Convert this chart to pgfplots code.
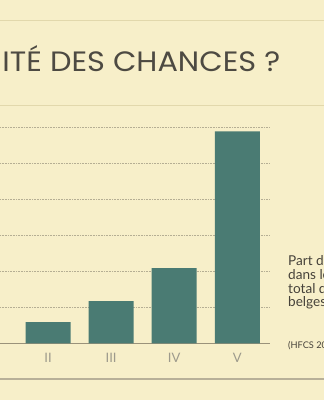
\documentclass[border=0pt]{standalone}
\usepackage{pgfplots}
\pgfplotsset{compat=1.18}
\usepackage{fontspec}
\setmainfont{Lato}
\newfontfamily\titlefont{Poppins}
\definecolor{bg}{HTML}{F7EFC9}
\definecolor{bar}{HTML}{4A7B73}
\definecolor{gridc}{HTML}{B5AE93}
\definecolor{axisc}{HTML}{9A927A}
\definecolor{titlec}{HTML}{4D4A42}
\definecolor{tickc}{HTML}{9D9A8C}
\definecolor{textc}{HTML}{46423A}
\definecolor{linec}{HTML}{E2D8AC}
\definecolor{botline}{HTML}{B8B098}
\begin{document}
\begin{tikzpicture}[x=1pt,y=1pt]
\clip (0,0) rectangle (324,400);
\fill[bg] (0,0) rectangle (324,400);
\draw[linec, line width=1pt] (0,379.3) -- (324,379.3);
\draw[linec, line width=1pt] (0,294) -- (324,294);
\draw[botline, line width=2.5pt] (0,21) -- (324,21);
\node[anchor=base west, inner sep=0, text=titlec, xscale=1.085, font=\titlefont\fontsize{28}{30}\selectfont] at (2.2,328.3) {ITÉ DES CHANCES ?};
\node[anchor=base west, inner sep=0, text=textc, align=left, font=\fontsize{13.6}{13.6}\selectfont] at (288,93.3) {Part du\\dans le\\total des\\belges};
\node[anchor=base west, inner sep=0, text=textc, font=\fontsize{9.2}{10}\selectfont] at (288,52) {(HFCS 2010)};
\begin{axis}[
  at={(0pt,56.7pt)}, anchor=south west,
  scale only axis, width=270pt, height=216pt,
  xmin=1.239, xmax=5.518, ymin=0, ymax=60,
  axis lines*=left,
  y axis line style={draw=none},
  x axis line style={draw=axisc, line width=1.2pt},
  xtick={2,3,4,5}, xticklabels={II,III,IV,V},
  ytick={10,20,30,40,50,60}, yticklabels={},
  major tick length=0pt,
  ymajorgrids,
  grid style={gridc, line width=0.7pt, dash pattern=on 0.7pt off 0.9pt},
  xticklabel style={anchor=base, yshift=-19.5pt, text=tickc, font=\fontsize{13}{14}\selectfont},
  clip=false,
]
\addplot[ybar, bar width=45pt, fill=bar, draw=none] coordinates {(2,5.9) (3,11.75) (4,20.9) (5,58.9)};
\end{axis}
\end{tikzpicture}
\end{document}
